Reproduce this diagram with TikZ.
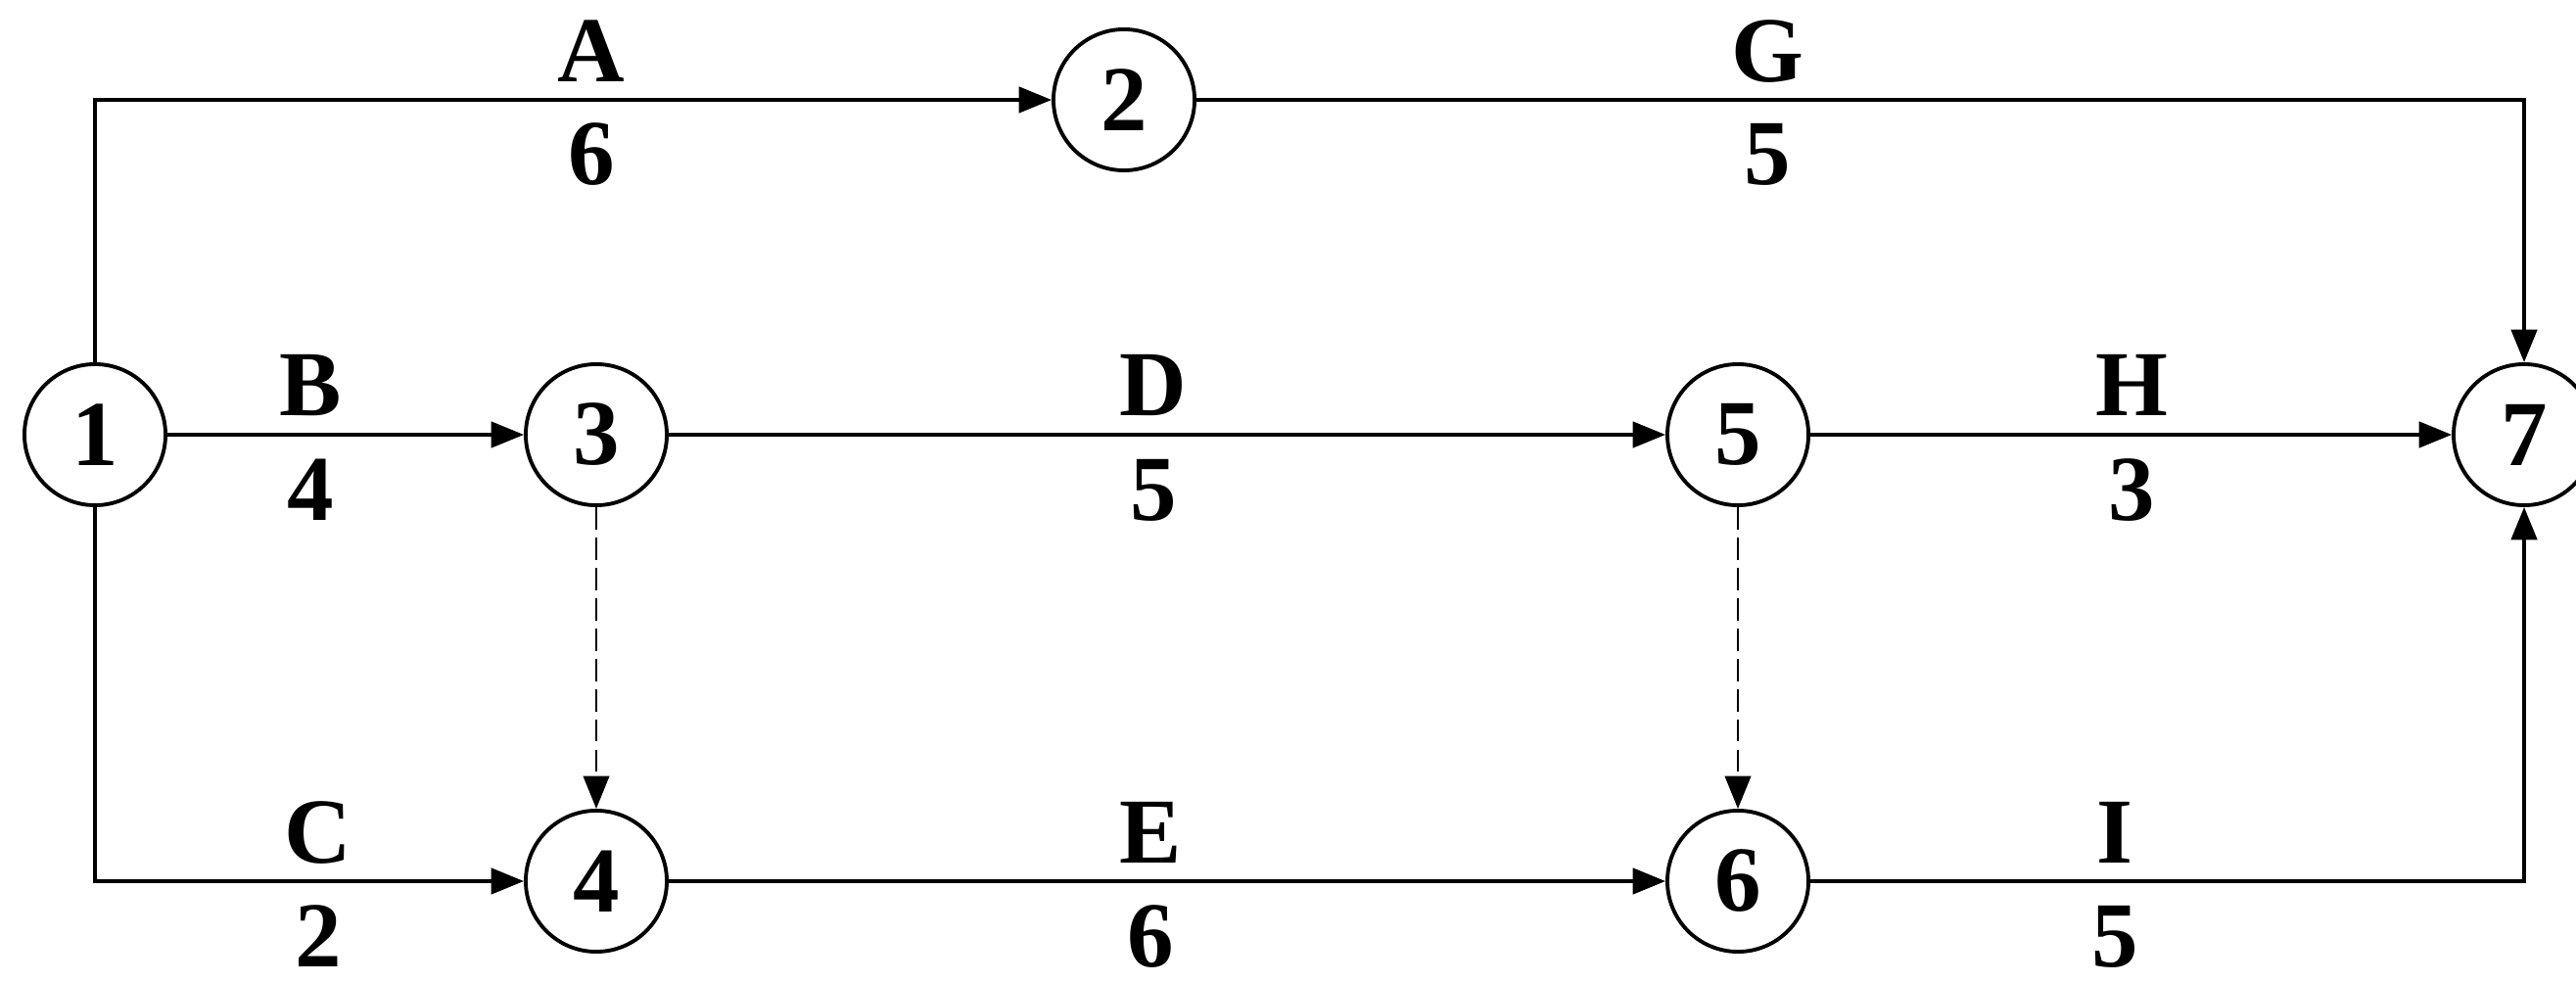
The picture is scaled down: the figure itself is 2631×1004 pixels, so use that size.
\documentclass[tikz,border=0pt]{standalone}
\usepackage{fontspec}
\setmainfont{Liberation Serif}
\usetikzlibrary{arrows.meta}
\begin{document}
\begin{tikzpicture}[x=0.01cm,y=-0.01cm,
  ev/.style={circle,draw,line width=1.1pt,minimum size=1.44cm,inner sep=0pt,font=\fontsize{27}{30}\selectfont\bfseries},
  lab/.style={anchor=base,inner sep=0pt,font=\fontsize{27}{30}\selectfont\bfseries},
  act/.style={line width=1pt,-{Triangle[length=9.5pt,width=7.5pt]}},
  dum/.style={act,line width=0.8pt,dash pattern=on 6.5pt off 2.3pt}]
\useasboundingbox (0,0) rectangle (2631,1004);
\node[ev] (n1) at (97,444) {1};
\node[ev] (n2) at (1148,102) {2};
\node[ev] (n3) at (609,444) {3};
\node[ev] (n4) at (609,900) {4};
\node[ev] (n5) at (1775,444) {5};
\node[ev] (n6) at (1775,900) {6};
\node[ev] (n7) at (2578,444) {7};
\draw[act] (n1.north) |- (n2.west);
\draw[act] (n2.east) -| (n7.north);
\draw[act] (n1) -- (n3);
\draw[act] (n3) -- (n5);
\draw[act] (n5) -- (n7);
\draw[dum] (n3) -- (n4);
\draw[dum] (n5) -- (n6);
\draw[act] (n1.south) |- (n4.west);
\draw[act] (n4) -- (n6);
\draw[act] (n6.east) -| (n7.south);
\node[lab] (lA) at (604,84) {A};
\node[lab] (dA) at (604,189) {6};
\node[lab] (lG) at (1805,84) {G};
\node[lab] (dG) at (1805,189) {5};
\node[lab] (lB) at (317,425) {B};
\node[lab] (dB) at (317,532) {4};
\node[lab] (lD) at (1178,425) {D};
\node[lab] (dD) at (1178,532) {5};
\node[lab] (lH) at (2177,425) {H};
\node[lab] (dH) at (2177,532) {3};
\node[lab] (lC) at (325,881) {C};
\node[lab] (dC) at (325,987) {2};
\node[lab] (lE) at (1175,881) {E};
\node[lab] (dE) at (1175,987) {6};
\node[lab] (lI) at (2160,881) {I};
\node[lab] (dI) at (2160,987) {5};
\end{tikzpicture}
\end{document}
